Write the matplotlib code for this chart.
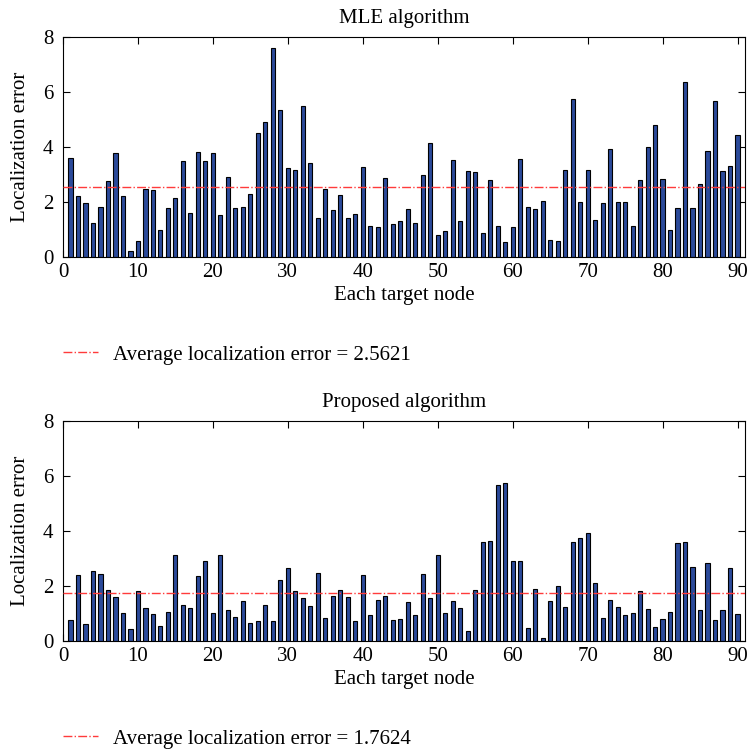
import matplotlib
matplotlib.use('Agg')
import matplotlib.pyplot as plt
import numpy as np

plt.rcParams['font.family'] = 'Liberation Serif'

nodes = np.arange(1, 91)

mle_err = [3.59, 2.22, 1.98, 1.24, 1.82, 2.75, 3.77, 2.22, 0.21, 0.60,
           2.47, 2.42, 0.97, 1.80, 2.13, 3.48, 1.60, 3.81, 3.49, 3.79,
           1.53, 2.91, 1.79, 1.82, 2.29, 4.50, 4.92, 7.60, 5.33, 3.25,
           3.15, 5.50, 3.43, 1.41, 2.46, 1.70, 2.27, 1.42, 1.58, 3.26,
           1.14, 1.08, 2.89, 1.19, 1.31, 1.73, 1.22, 2.97, 4.15, 0.81,
           0.94, 3.51, 1.30, 3.12, 3.08, 0.89, 2.80, 1.13, 0.53, 1.08,
           3.57, 1.82, 1.75, 2.03, 0.61, 0.57, 3.15, 5.74, 2.01, 3.16,
           1.36, 1.98, 3.93, 2.01, 2.01, 1.12, 2.80, 4.00, 4.79, 2.83,
           0.98, 1.80, 6.37, 1.80, 2.64, 3.84, 5.68, 3.12, 3.32, 4.45]

prop_err = [0.75, 2.39, 0.62, 2.56, 2.44, 1.87, 1.59, 1.01, 0.42, 1.82,
            1.21, 0.97, 0.55, 1.06, 3.11, 1.30, 1.20, 2.35, 2.92, 1.01,
            3.11, 1.14, 0.89, 1.47, 0.67, 0.74, 1.32, 0.74, 2.23, 2.65,
            1.81, 1.55, 1.29, 2.48, 0.85, 1.63, 1.84, 1.59, 0.74, 2.39,
            0.93, 1.48, 1.63, 0.75, 0.81, 1.41, 0.93, 2.44, 1.55, 3.13,
            1.01, 1.47, 1.20, 0.36, 1.84, 3.60, 3.63, 5.69, 5.75, 2.90,
            2.91, 0.47, 1.89, 0.12, 1.46, 2.01, 1.23, 3.59, 3.76, 3.91,
            2.12, 0.85, 1.50, 1.24, 0.93, 1.01, 1.83, 1.17, 0.52, 0.80,
            1.07, 3.57, 3.60, 2.69, 1.14, 2.82, 0.76, 1.14, 2.65, 1.00]

mle_avg = 2.5621
prop_avg = 1.7624

fig = plt.figure(figsize=(7.49, 7.54), dpi=100)
W, H = 749, 754

def panel(top_px, title, vals, avg):
    ax = fig.add_axes([63 / W, 1 - (top_px + 220) / H, 682 / W, 220 / H])
    ax.bar(nodes, vals, width=0.55, color='#2b4a9a', edgecolor='black', linewidth=0.8, zorder=2)
    line, = ax.plot([0, 91], [avg, avg], color='#ff3b3b', linestyle='-.', linewidth=1.0, zorder=3)
    ax.set_xlim(0, 91)
    ax.set_ylim(0, 8)
    ax.set_xticks(range(0, 91, 10))
    ax.set_yticks(range(0, 9, 2))
    ax.tick_params(direction='in', top=True, right=True, labelsize=15, length=5)
    ax.tick_params(axis='x', pad=4)
    ax.tick_params(axis='y', pad=7)
    ax.set_title(title, fontsize=15, pad=10)
    ax.set_xlabel('Each target node', fontsize=15, labelpad=3)
    ax.set_ylabel('Localization error', fontsize=15, labelpad=9)
    ax.legend([line], ['Average localization error = %.4f' % avg], loc='upper left',
              bbox_to_anchor=(0, -0.40), frameon=False, fontsize=15,
              borderpad=0, borderaxespad=0,
              handlelength=1.7, handletextpad=0.7)
    return ax

panel(37, 'MLE algorithm', mle_err, mle_avg)
panel(421, 'Proposed algorithm', prop_err, prop_avg)

fig.savefig('out.png', dpi=100)
